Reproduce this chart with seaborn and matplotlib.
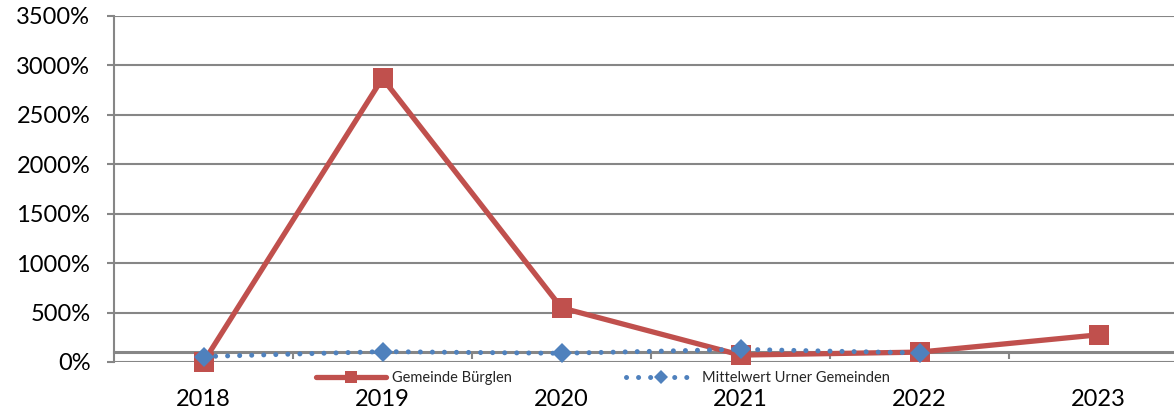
import numpy as np
import pandas as pd
import matplotlib
matplotlib.use("Agg")
import matplotlib.pyplot as plt
import seaborn as sns
from matplotlib.lines import Line2D
from matplotlib.ticker import FuncFormatter, FixedLocator

sns.set_theme(style="white")
plt.rcParams["font.family"] = ["Lato", "DejaVu Sans"]

# Daten (Prozent)
jahre = [2018, 2019, 2020, 2021, 2022, 2023]
buerglen = [0, 2870, 548, 70, 100, 275]
mittelwert = [55, 105, 88, 128, 92, np.nan]

df = pd.DataFrame({"Jahr": jahre, "Bürglen": buerglen, "Mittelwert": mittelwert})

rot = "#C0504D"
blau = "#4F81BD"
grau = "#868686"

fig = plt.figure(figsize=(11.74, 4.09), dpi=100)
ax = fig.add_axes([114 / 1174, 47 / 409, 1074 / 1174, 346 / 409])

sns.lineplot(data=df, x="Jahr", y="Bürglen", ax=ax, color=rot, lw=3.8,
             marker="s", markersize=14, markeredgewidth=0, clip_on=False,
             zorder=3)
sns.lineplot(data=df, x="Jahr", y="Mittelwert", ax=ax, color=blau, lw=3.6,
             linestyle=(0, (0.01, 2.4)), dash_capstyle="round",
             marker="D", markersize=10, markeredgewidth=0, clip_on=False,
             zorder=4)

ax.set_xlim(2017.5, 2023.5)
ax.set_ylim(0, 3500)
ax.set_yticks(np.arange(0, 3501, 500))
ax.yaxis.set_major_formatter(FuncFormatter(lambda v, p: f"{v:.0f}%"))
ax.yaxis.grid(True, color=grau, lw=1.5)
ax.set_xticks(jahre)
ax.set_xticklabels([str(j) for j in jahre])
ax.xaxis.set_minor_locator(FixedLocator(np.arange(2018.5, 2023, 1)))
ax.set_xlabel("")
ax.set_ylabel("")

for s in ["top", "right"]:
    ax.spines[s].set_visible(False)
ax.spines["left"].set_color(grau)
ax.spines["left"].set_linewidth(1.5)
ax.spines["bottom"].set_position(("data", 100))
ax.spines["bottom"].set_color(grau)
ax.spines["bottom"].set_linewidth(2.2)

ax.tick_params(axis="y", which="major", left=True, length=5, width=1.5,
               color=grau, labelsize=17, pad=12, labelcolor="black")
ax.tick_params(axis="x", which="major", bottom=True, length=0, pad=26.5,
               labelsize=17, labelcolor="black")
ax.tick_params(axis="x", which="minor", bottom=True, length=5, width=1.5,
               color=grau)

handles = [
    Line2D([], [], color=rot, lw=3.8, marker="s", markersize=8,
           markeredgewidth=0),
    Line2D([], [], color=blau, lw=3.6, linestyle=(0, (0.01, 2.4)),
           dash_capstyle="round", marker="D", markersize=7,
           markeredgewidth=0),
]
fig.legend(handles, ["Gemeinde Bürglen", "Mittelwert Urner Gemeinden"],
           loc="center", bbox_to_anchor=(603 / 1174, 1 - 378 / 409), ncol=2,
           frameon=False, fontsize=10.5, handlelength=4.8, columnspacing=7.8,
           handletextpad=0.45)

fig.savefig("out.png", dpi=100)
